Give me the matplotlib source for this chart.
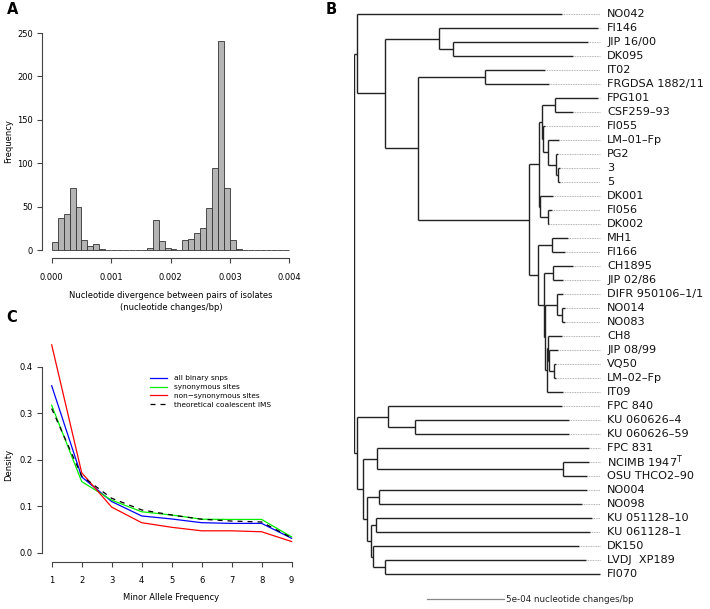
import numpy as np
import matplotlib.pyplot as plt

W, H = 710, 609

# Panel A: histogram of pairwise nucleotide divergence (bin width 1e-4)
bin_width = 0.0001
bin_counts = [9, 37, 42, 72, 49, 11, 5, 7, 1, 0,
              0, 0, 0, 0, 0, 0, 2, 35, 10, 2,
              1, 0, 12, 13, 20, 25, 48, 94, 241, 71,
              12, 1, 0, 0, 0, 0, 0, 0, 0, 0]
hist_xticks = [0.000, 0.001, 0.002, 0.003, 0.004]
hist_yticks = [0, 50, 100, 150, 200, 250]

# Panel C: folded site frequency spectra
maf = [1, 2, 3, 4, 5, 6, 7, 8, 9]
all_snps = [0.359, 0.163, 0.110, 0.079, 0.0725, 0.0645, 0.063, 0.063, 0.031]
syn_sites = [0.317, 0.153, 0.113, 0.088, 0.081, 0.072, 0.0715, 0.0715, 0.034]
nonsyn_sites = [0.447, 0.172, 0.098, 0.0645, 0.0546, 0.047, 0.047, 0.045, 0.024]
theory_ims = [0.310, 0.165, 0.117, 0.092, 0.081, 0.072, 0.068, 0.066, 0.032]
density_ticks = [0.0, 0.1, 0.2, 0.3, 0.4]

# Panel B: tree, tips referenced by index into tip_labels, branch lengths in 1e-5 changes/bp
tip_labels = [
    "NO042", "FI146", "JIP 16/00", "DK095", "IT02", "FRGDSA 1882/11",
    "FPG101", "CSF259\u201393", "FI055", "LM\u201301\u2013Fp", "PG2", "3", "5",
    "DK001", "FI056", "DK002", "MH1", "FI166", "CH1895", "JIP 02/86",
    "DIFR 950106\u20131/1", "NO014", "NO083", "CH8", "JIP 08/99", "VQ50",
    "LM\u201302\u2013Fp", "IT09", "FPC 840", "KU 060626\u20134", "KU 060626\u201359",
    "FPC 831", r"NCIMB 1947$^\mathrm{T}$", "OSU THCO2\u201390", "NO004", "NO098",
    "KU 051128\u201310", "KU 061128\u20131", "DK150", "LVDJ  XP189", "FI070",
]
tree_newick = (
    "((0:132.2,((1:102.6,(2:87.7,3:77.6):8.7):34.9,((4:38.8,5:41.6):43.1,"
    "((((6:27.6,7:11.3):8.4,(8:1.1,(9:7.1,(10:0.8,(11:1.1,12:1.1):1.0):5.4):3.2):0.6):1.9,"
    "(13:8.4,(14:2.2,15:0.6):5.4):0.5):6.5,"
    "((16:10.7,17:8.6):8.7,((18:13.3,19:6.9):5.4,((20:4.1,(21:1.9,22:1.9):3.4):7.8,"
    "((23:8.7,(24:5.8,(25:1.3,26:1.3):3.0):0.6):1.0,27:10.3):1.3):0.3):3.9):5.8):71.8"
    "):21.3):18.1):2.1,"
    "((28:112.5,(29:99.8,30:99.8):17.7):20.1,((31:137.1,(32:16.8,33:15.5):120.3):9.1,"
    "((34:134.3,35:131.1):8.0,((36:139.5,37:138.4):3.4,(38:133.6,(39:130.0,40:139.1):8.0)"
    ":1.3):2.6):2.2):4.3):1.7);"
)
bl_unit = 1e-5
scale_bar = 5e-4


def parse_newick(s):
    pos = 0

    def node():
        nonlocal pos
        kids, name = [], None
        if s[pos] == "(":
            pos += 1
            kids.append(node())
            while s[pos] == ",":
                pos += 1
                kids.append(node())
            pos += 1
        else:
            start = pos
            while s[pos] not in ":,);":
                pos += 1
            name = int(s[start:pos])
        bl = 0.0
        if s[pos] == ":":
            pos += 1
            start = pos
            while s[pos] not in ",);":
                pos += 1
            bl = float(s[start:pos]) * bl_unit
        return {"tip": name, "bl": bl, "kids": kids}

    return node()


def layout(nd, x0=0.0):
    nd["x"] = x0 + nd["bl"]
    if not nd["kids"]:
        nd["y"] = nd["tip"]
    else:
        for k in nd["kids"]:
            layout(k, nd["x"])
        ys = [k["y"] for k in nd["kids"]]
        nd["y"] = (min(ys) + max(ys)) / 2
    return nd


def px_rect(left, top, right, bottom):
    return [left / W, 1 - bottom / H, (right - left) / W, (bottom - top) / H]


def r_style(ax, xb, yb):
    for s in ["top", "right"]:
        ax.spines[s].set_visible(False)
    ax.spines["left"].set_bounds(*yb)
    ax.spines["bottom"].set_bounds(*xb)
    for s in ["left", "bottom"]:
        ax.spines[s].set_color("#444444")
        ax.spines[s].set_linewidth(0.8)
    ax.tick_params(axis="both", length=3.5, width=0.8, color="#444444", labelsize=6.0)
    ax.tick_params(axis="x", pad=7)
    ax.tick_params(axis="y", pad=3)


plt.rcParams["font.family"] = ["DejaVu Sans"]
fig = plt.figure(figsize=(W / 100, H / 100), dpi=100)

# ---------------- A ----------------
axA = fig.add_axes(px_rect(41.7, 30, 300, 258))
lefts = np.arange(len(bin_counts)) * bin_width
axA.bar(lefts, bin_counts, width=bin_width, align="edge", color="#b4b4b4",
        edgecolor="#333333", linewidth=0.6)
axA.set_xlim(-0.00017, 0.00418)
axA.set_ylim(-9.2, 253.5)
axA.set_xticks(hist_xticks)
axA.set_xticklabels([f"{v:.3f}" for v in hist_xticks])
axA.set_yticks(hist_yticks)
r_style(axA, (0, 0.004), (0, 250))
axA.set_xlabel("Nucleotide divergence between pairs of isolates\n(nucleotide changes/bp)",
               fontsize=6.0, linespacing=1.45)
axA.xaxis.set_label_coords(0.5, (258 - 291) / 228)
axA.set_ylabel("Frequency", fontsize=6.0)
axA.yaxis.set_label_coords((4 - 41.7) / 258.3, (258 - 141) / 228, transform=None)
axA.yaxis.set_label_coords((4 - 41.7) / 258.3, (258 - 141) / 228)
axA.yaxis.label.set_va("top")

# ---------------- C ----------------
axC = fig.add_axes(px_rect(41.7, 340, 300, 561.7))
axC.plot(maf, all_snps, color="blue", lw=0.9, label="all binary snps")
axC.plot(maf, syn_sites, color="#00ee00", lw=0.9, label="synonymous sites")
axC.plot(maf, nonsyn_sites, color="red", lw=0.9, label="non\u2212synonymous sites")
axC.plot(maf, theory_ims, color="black", lw=0.9, ls=(0, (4, 4)),
         label="theoretical coalescent IMS")
axC.set_xlim(0.667, 9.28)
axC.set_ylim(-0.0194, 0.4574)
axC.set_xticks(maf)
axC.set_yticks(density_ticks)
axC.set_yticklabels([f"{v:.1f}" for v in density_ticks])
r_style(axC, (1, 9), (0, 0.4))
axC.set_xlabel("Minor Allele Frequency", fontsize=6.0)
axC.xaxis.set_label_coords(0.5, (561.7 - 593) / 221.7)
axC.set_ylabel("Density", fontsize=6.0)
axC.yaxis.set_label_coords((4 - 41.7) / 258.3, (561.7 - 465) / 221.7)
axC.yaxis.label.set_va("top")
axC.legend(loc="upper left", bbox_to_anchor=(150 / W, 1 - 375 / H),
           bbox_transform=fig.transFigure, frameon=False, fontsize=5.3,
           borderaxespad=0, borderpad=0, handlelength=2.3, handletextpad=1.0,
           labelspacing=0.38)

# ---------------- B ----------------
px_per_unit = 154.6e3
root_px = 354
axB = fig.add_axes(px_rect(root_px, 0, W, H))
axB.set_xlim(0, (W - root_px) / px_per_unit)
axB.set_ylim(42.5, -1.0)
axB.axis("off")
axB.patch.set_alpha(0)

tree = layout(parse_newick(tree_newick))
tips = []


def draw(nd, parent_x):
    axB.plot([parent_x, nd["x"]], [nd["y"], nd["y"]], color="#222222", lw=1.0,
             solid_capstyle="butt")
    if nd["kids"]:
        ys = [k["y"] for k in nd["kids"]]
        axB.plot([nd["x"], nd["x"]], [min(ys), max(ys)], color="#222222", lw=1.0,
                 solid_capstyle="butt")
        for k in nd["kids"]:
            draw(k, nd["x"])
    else:
        tips.append(nd)


draw(tree, tree["x"])
align_x = max(t["x"] for t in tips)
label_x = align_x + 7 / px_per_unit
for t in tips:
    if align_x - t["x"] > 1e-7:
        axB.plot([t["x"], align_x], [t["y"], t["y"]], color="#999999", lw=0.6,
                 ls=(0, (1, 1)))
    axB.text(label_x, t["y"], tip_labels[t["tip"]], fontsize=8.1, va="center",
             ha="left", color="#111111")

sb_x0 = 0.00047
axB.plot([sb_x0, sb_x0 + scale_bar], [41.8, 41.8], color="#888888", lw=0.9)
axB.text(sb_x0 + scale_bar + 2 / px_per_unit, 41.8, "5e-04 nucleotide changes/bp",
         fontsize=6.3, va="center", ha="left", color="#222222")

# panel letters
fig.text(7 / W, 1 - 10 / H, "A", fontsize=10.5, fontweight="bold", va="center")
fig.text(326 / W, 1 - 10 / H, "B", fontsize=10.5, fontweight="bold", va="center")
fig.text(6 / W, 1 - 318 / H, "C", fontsize=10.5, fontweight="bold", va="center")

fig.savefig("out.png", dpi=100)
